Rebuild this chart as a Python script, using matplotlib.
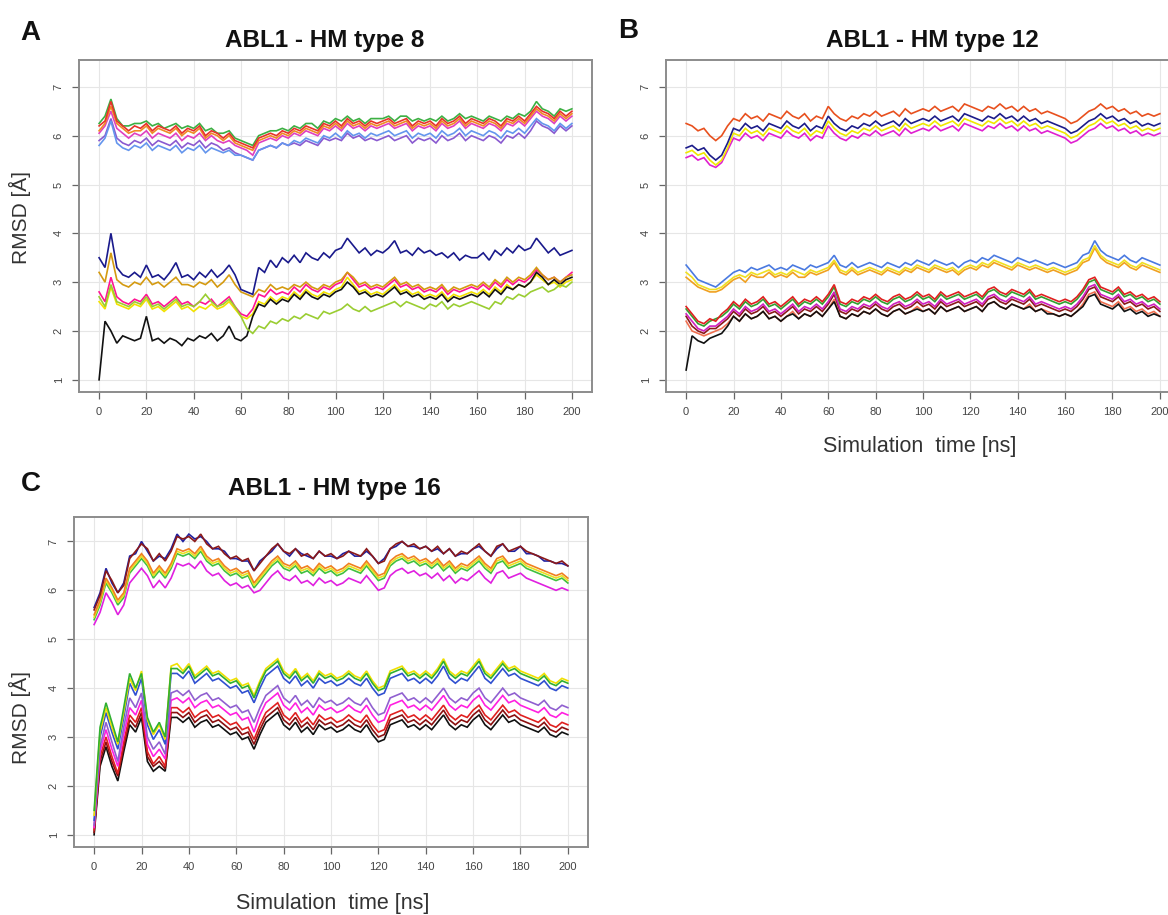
import numpy as np
import matplotlib
matplotlib.use("Agg")
import matplotlib.pyplot as plt

plt.rcParams['font.family'] = ['Liberation Sans', 'DejaVu Sans']

# time samples (ns), one every 2.5 ns
time_ns = np.arange(0, 200.1, 2.5)
x_ticks = list(range(0, 201, 20))
y_ticks = list(range(1, 8))

titles = ["ABL1 - HM type 8", "ABL1 - HM type 12", "ABL1 - HM type 16"]
panel_letters = ["A", "B", "C"]
ylabel = "RMSD [Å]"
xlabel = "Simulation  time [ns]"

# ---------------- Panel A : HM type 8 ----------------
A_up_red = [6.2, 6.3, 6.7, 6.3, 6.2, 6.1, 6.2, 6.15,
            6.25, 6.1, 6.2, 6.15, 6.1, 6.2, 6.05, 6.15,
            6.1, 6.2, 6.0, 6.1, 6.05, 5.95, 6.05, 5.9,
            5.85, 5.8, 5.75, 5.95, 6.0, 6.05, 6.0, 6.1,
            6.05, 6.15, 6.1, 6.2, 6.15, 6.1, 6.25, 6.2,
            6.3, 6.2, 6.35, 6.25, 6.3, 6.2, 6.3, 6.25,
            6.3, 6.35, 6.25, 6.3, 6.35, 6.2, 6.3, 6.25,
            6.3, 6.2, 6.35, 6.25, 6.3, 6.4, 6.25, 6.35,
            6.3, 6.25, 6.35, 6.3, 6.2, 6.35, 6.3, 6.4,
            6.3, 6.45, 6.6, 6.5, 6.45, 6.35, 6.5, 6.4,
            6.5]
A_up_green = [6.25, 6.4, 6.75, 6.35, 6.2, 6.2, 6.25, 6.25,
              6.3, 6.2, 6.25, 6.15, 6.2, 6.25, 6.15, 6.2,
              6.15, 6.25, 6.1, 6.15, 6.05, 6.05, 6.1, 5.95,
              5.9, 5.85, 5.8, 6.0, 6.05, 6.1, 6.1, 6.15,
              6.1, 6.2, 6.15, 6.25, 6.25, 6.15, 6.3, 6.25,
              6.35, 6.3, 6.4, 6.3, 6.35, 6.25, 6.35, 6.35,
              6.35, 6.4, 6.3, 6.4, 6.4, 6.3, 6.35, 6.3,
              6.35, 6.3, 6.4, 6.3, 6.35, 6.45, 6.35, 6.4,
              6.35, 6.3, 6.4, 6.35, 6.3, 6.4, 6.35, 6.45,
              6.4, 6.5, 6.7, 6.55, 6.5, 6.4, 6.55, 6.5,
              6.55]
A_up_orange = [6.1, 6.25, 6.6, 6.25, 6.15, 6.05, 6.1, 6.1,
               6.2, 6.05, 6.15, 6.1, 6.05, 6.15, 6.0, 6.1,
               6.05, 6.15, 5.95, 6.05, 6.0, 5.9, 6.0, 5.85,
               5.8, 5.75, 5.7, 5.9, 5.95, 6.0, 5.95, 6.05,
               6.0, 6.1, 6.05, 6.15, 6.1, 6.05, 6.2, 6.15,
               6.25, 6.15, 6.3, 6.2, 6.25, 6.15, 6.25, 6.2,
               6.25, 6.3, 6.2, 6.25, 6.3, 6.15, 6.25, 6.2,
               6.25, 6.15, 6.3, 6.2, 6.25, 6.35, 6.2, 6.3,
               6.25, 6.2, 6.3, 6.25, 6.15, 6.3, 6.25, 6.35,
               6.25, 6.4, 6.55, 6.45, 6.4, 6.3, 6.45, 6.35,
               6.45]
A_up_magenta = [6.05, 6.2, 6.5, 6.15, 6.05, 5.95, 6.05, 6.0,
                6.1, 5.95, 6.05, 6.0, 5.95, 6.05, 5.9, 6.0,
                5.95, 6.05, 5.9, 6.0, 5.9, 5.85, 5.9, 5.8,
                5.75, 5.7, 5.6, 5.85, 5.9, 5.95, 5.9, 6.0,
                5.95, 6.05, 6.0, 6.1, 6.05, 6.0, 6.15, 6.1,
                6.2, 6.1, 6.25, 6.15, 6.2, 6.1, 6.2, 6.15,
                6.2, 6.25, 6.15, 6.2, 6.25, 6.1, 6.2, 6.15,
                6.2, 6.1, 6.25, 6.15, 6.2, 6.3, 6.15, 6.25,
                6.2, 6.15, 6.25, 6.2, 6.1, 6.25, 6.2, 6.3,
                6.2, 6.35, 6.5, 6.4, 6.35, 6.25, 6.4, 6.3,
                6.4]
A_up_blue = [5.8, 5.95, 6.3, 5.85, 5.75, 5.7, 5.8, 5.75,
             5.85, 5.7, 5.8, 5.75, 5.7, 5.8, 5.65, 5.75,
             5.7, 5.8, 5.65, 5.75, 5.7, 5.65, 5.7, 5.6,
             5.6, 5.55, 5.5, 5.7, 5.75, 5.8, 5.75, 5.85,
             5.8, 5.9, 5.85, 5.95, 5.9, 5.85, 6.0, 5.95,
             6.05, 5.95, 6.1, 6.0, 6.05, 5.95, 6.05, 6.0,
             6.05, 6.1, 6.0, 6.05, 6.1, 5.95, 6.05, 6.0,
             6.05, 5.95, 6.1, 6.0, 6.05, 6.15, 6.0, 6.1,
             6.05, 6.0, 6.1, 6.05, 5.95, 6.1, 6.05, 6.15,
             6.05, 6.2, 6.35, 6.25, 6.2, 6.1, 6.25, 6.15,
             6.25]
A_up_purple = [5.9, 6.0, 6.35, 5.95, 5.85, 5.8, 5.9, 5.85,
               5.95, 5.8, 5.9, 5.85, 5.8, 5.9, 5.75, 5.85,
               5.8, 5.9, 5.75, 5.85, 5.8, 5.7, 5.75, 5.65,
               5.6, 5.55, 5.5, 5.7, 5.75, 5.8, 5.75, 5.85,
               5.8, 5.85, 5.8, 5.9, 5.85, 5.8, 5.95, 5.9,
               5.95, 5.9, 6.05, 5.95, 6.0, 5.9, 5.95, 5.9,
               5.95, 6.0, 5.9, 5.95, 6.0, 5.85, 5.95, 5.9,
               5.95, 5.85, 6.0, 5.9, 5.95, 6.05, 5.9, 6.0,
               5.95, 5.9, 6.0, 5.95, 5.85, 6.0, 5.95, 6.05,
               5.95, 6.1, 6.3, 6.2, 6.15, 6.05, 6.2, 6.1,
               6.2]

A_lo_navy = [3.5, 3.3, 4.0, 3.3, 3.15, 3.1, 3.2, 3.1,
             3.35, 3.1, 3.15, 3.05, 3.2, 3.4, 3.1, 3.15,
             3.05, 3.2, 3.1, 3.25, 3.1, 3.2, 3.35, 3.15,
             2.85, 2.8, 2.75, 3.3, 3.2, 3.45, 3.3, 3.5,
             3.4, 3.55, 3.4, 3.6, 3.5, 3.45, 3.6, 3.5,
             3.65, 3.7, 3.9, 3.75, 3.6, 3.7, 3.55, 3.65,
             3.6, 3.7, 3.85, 3.6, 3.65, 3.55, 3.7, 3.6,
             3.65, 3.55, 3.6, 3.5, 3.6, 3.45, 3.55, 3.5,
             3.5, 3.6, 3.45, 3.65, 3.55, 3.7, 3.6, 3.75,
             3.65, 3.7, 3.9, 3.75, 3.6, 3.7, 3.55, 3.6,
             3.65]
A_lo_gold = [3.2, 3.0, 3.6, 3.05, 2.95, 2.9, 3.0, 2.95,
             3.1, 2.95, 3.0, 2.9, 3.0, 3.1, 2.95, 2.95,
             2.9, 3.0, 2.95, 3.05, 2.9, 3.0, 3.15, 2.95,
             2.8, 2.75, 2.7, 2.85, 2.8, 2.95, 2.85, 2.9,
             2.85, 2.95, 2.9, 3.0, 2.9, 2.85, 2.95, 2.9,
             3.0, 3.05, 3.2, 3.1, 2.95, 3.0, 2.9, 2.95,
             2.9, 3.0, 3.1, 2.95, 3.0, 2.9, 2.95, 2.85,
             2.9, 2.85, 2.95, 2.8, 2.9, 2.85, 2.9, 2.95,
             2.9, 3.0, 2.9, 3.05, 2.95, 3.1, 3.0, 3.1,
             3.05, 3.15, 3.3, 3.15, 3.05, 3.1, 3.0, 3.1,
             3.15]
A_lo_pink = [2.8, 2.6, 3.1, 2.7, 2.6, 2.55, 2.65, 2.6,
             2.75, 2.55, 2.6, 2.5, 2.6, 2.7, 2.55, 2.6,
             2.5, 2.6, 2.55, 2.65, 2.5, 2.6, 2.7, 2.5,
             2.35, 2.3, 2.45, 2.75, 2.7, 2.85, 2.75, 2.8,
             2.75, 2.9, 2.8, 2.95, 2.85, 2.8, 2.9, 2.85,
             2.95, 3.0, 3.2, 3.05, 2.9, 2.95, 2.85, 2.9,
             2.85, 2.95, 3.05, 2.9, 2.95, 2.85, 2.9, 2.8,
             2.85, 2.8, 2.9, 2.75, 2.85, 2.8, 2.85, 2.9,
             2.85, 2.95, 2.85, 3.0, 2.9, 3.05, 2.95, 3.05,
             3.0, 3.1, 3.25, 3.15, 3.05, 3.1, 3.0, 3.1,
             3.2]
A_lo_yellow = [2.6, 2.45, 2.9, 2.55, 2.5, 2.45, 2.55, 2.5,
               2.65, 2.45, 2.5, 2.4, 2.5, 2.6, 2.45, 2.5,
               2.4, 2.5, 2.45, 2.55, 2.45, 2.5, 2.6, 2.45,
               2.3, 2.25, 2.35, 2.6, 2.55, 2.7, 2.6, 2.7,
               2.65, 2.8, 2.7, 2.85, 2.75, 2.7, 2.8, 2.75,
               2.85, 2.9, 3.1, 2.95, 2.8, 2.85, 2.75, 2.8,
               2.75, 2.85, 2.95, 2.8, 2.85, 2.75, 2.8, 2.7,
               2.75, 2.7, 2.8, 2.65, 2.75, 2.7, 2.75, 2.8,
               2.75, 2.85, 2.75, 2.9, 2.8, 2.95, 2.85, 2.95,
               2.9, 3.0, 3.15, 3.05, 2.95, 3.0, 2.9, 3.0,
               3.05]
A_lo_black = [1.0, 2.2, 2.0, 1.75, 1.9, 1.85, 1.8, 1.85,
              2.3, 1.8, 1.85, 1.75, 1.85, 1.8, 1.7, 1.85,
              1.8, 1.9, 1.85, 1.95, 1.8, 1.9, 2.1, 1.85,
              1.8, 1.9, 2.3, 2.55, 2.5, 2.65, 2.55, 2.65,
              2.6, 2.75, 2.65, 2.8, 2.7, 2.65, 2.75, 2.7,
              2.8, 2.85, 3.0, 2.9, 2.75, 2.8, 2.7, 2.75,
              2.7, 2.8, 2.9, 2.75, 2.8, 2.7, 2.75, 2.65,
              2.7, 2.65, 2.75, 2.6, 2.7, 2.65, 2.7, 2.75,
              2.7, 2.8, 2.7, 2.85, 2.75, 2.9, 2.85, 2.95,
              2.9, 3.0, 3.2, 3.1, 2.95, 3.05, 2.95, 3.05,
              3.1]
A_lo_ygreen = [2.7, 2.5, 2.95, 2.6, 2.55, 2.5, 2.6, 2.55,
               2.7, 2.5, 2.55, 2.45, 2.55, 2.65, 2.5, 2.55,
               2.5, 2.6, 2.75, 2.6, 2.5, 2.55, 2.65, 2.5,
               2.3, 2.05, 1.95, 2.1, 2.05, 2.2, 2.15, 2.25,
               2.2, 2.3, 2.25, 2.35, 2.3, 2.25, 2.4, 2.35,
               2.4, 2.45, 2.55, 2.45, 2.4, 2.5, 2.4, 2.45,
               2.5, 2.55, 2.6, 2.5, 2.6, 2.55, 2.5, 2.45,
               2.55, 2.5, 2.6, 2.45, 2.55, 2.5, 2.55, 2.6,
               2.55, 2.5, 2.45, 2.6, 2.55, 2.7, 2.65, 2.75,
               2.7, 2.8, 2.85, 2.9, 2.8, 2.85, 2.95, 2.9,
               3.0]

# ---------------- Panel B : HM type 12 ----------------
B_up_orangered = [6.25, 6.2, 6.1, 6.15, 6.0, 5.9, 6.0, 6.2,
                  6.35, 6.3, 6.45, 6.35, 6.4, 6.3, 6.45, 6.4,
                  6.35, 6.5, 6.4, 6.35, 6.45, 6.3, 6.4, 6.35,
                  6.6, 6.45, 6.35, 6.3, 6.4, 6.35, 6.45, 6.4,
                  6.5, 6.4, 6.45, 6.5, 6.4, 6.55, 6.45, 6.5,
                  6.55, 6.5, 6.6, 6.5, 6.55, 6.6, 6.5, 6.65,
                  6.6, 6.55, 6.5, 6.6, 6.55, 6.65, 6.55, 6.6,
                  6.5, 6.6, 6.5, 6.55, 6.45, 6.5, 6.45, 6.4,
                  6.35, 6.25, 6.3, 6.4, 6.5, 6.55, 6.65, 6.55,
                  6.6, 6.5, 6.55, 6.45, 6.5, 6.4, 6.45, 6.4,
                  6.45]
B_up_navy = [5.75, 5.8, 5.7, 5.75, 5.6, 5.5, 5.6, 5.85,
             6.15, 6.1, 6.25, 6.15, 6.2, 6.1, 6.25, 6.2,
             6.15, 6.3, 6.2, 6.15, 6.25, 6.1, 6.2, 6.15,
             6.4, 6.25, 6.15, 6.1, 6.2, 6.15, 6.25, 6.2,
             6.3, 6.2, 6.25, 6.3, 6.2, 6.35, 6.25, 6.3,
             6.35, 6.3, 6.4, 6.3, 6.35, 6.4, 6.3, 6.45,
             6.4, 6.35, 6.3, 6.4, 6.35, 6.45, 6.35, 6.4,
             6.3, 6.4, 6.3, 6.35, 6.25, 6.3, 6.25, 6.2,
             6.15, 6.05, 6.1, 6.2, 6.3, 6.35, 6.45, 6.35,
             6.4, 6.3, 6.35, 6.25, 6.3, 6.2, 6.25, 6.2,
             6.25]
B_up_yellow = [5.65, 5.7, 5.6, 5.65, 5.5, 5.4, 5.5, 5.75,
               6.05, 6.0, 6.15, 6.05, 6.1, 6.0, 6.15, 6.1,
               6.05, 6.2, 6.1, 6.05, 6.15, 6.0, 6.1, 6.05,
               6.3, 6.15, 6.05, 6.0, 6.1, 6.05, 6.15, 6.1,
               6.2, 6.1, 6.15, 6.2, 6.1, 6.25, 6.15, 6.2,
               6.25, 6.2, 6.3, 6.2, 6.25, 6.3, 6.2, 6.35,
               6.3, 6.25, 6.2, 6.3, 6.25, 6.35, 6.25, 6.3,
               6.2, 6.3, 6.2, 6.25, 6.15, 6.2, 6.15, 6.1,
               6.05, 5.95, 6.0, 6.1, 6.2, 6.25, 6.35, 6.25,
               6.3, 6.2, 6.25, 6.15, 6.2, 6.1, 6.15, 6.1,
               6.15]
B_up_magenta = [5.55, 5.6, 5.5, 5.55, 5.4, 5.35, 5.45, 5.7,
                5.95, 5.9, 6.05, 5.95, 6.0, 5.9, 6.05, 6.0,
                5.95, 6.1, 6.0, 5.95, 6.05, 5.9, 6.0, 5.95,
                6.2, 6.05, 5.95, 5.9, 6.0, 5.95, 6.05, 6.0,
                6.1, 6.0, 6.05, 6.1, 6.0, 6.15, 6.05, 6.1,
                6.15, 6.1, 6.2, 6.1, 6.15, 6.2, 6.1, 6.25,
                6.2, 6.15, 6.1, 6.2, 6.15, 6.25, 6.15, 6.2,
                6.1, 6.2, 6.1, 6.15, 6.05, 6.1, 6.05, 6.0,
                5.95, 5.85, 5.9, 6.0, 6.1, 6.15, 6.25, 6.15,
                6.2, 6.1, 6.15, 6.05, 6.1, 6.0, 6.05, 6.0,
                6.05]

B_lo_blue = [3.35, 3.2, 3.05, 3.0, 2.95, 2.9, 3.0, 3.1,
             3.2, 3.25, 3.2, 3.3, 3.25, 3.3, 3.35, 3.25,
             3.3, 3.25, 3.35, 3.3, 3.25, 3.35, 3.3, 3.35,
             3.4, 3.55, 3.35, 3.3, 3.4, 3.3, 3.35, 3.4,
             3.35, 3.3, 3.4, 3.35, 3.3, 3.4, 3.35, 3.45,
             3.4, 3.35, 3.45, 3.4, 3.35, 3.4, 3.3, 3.4,
             3.45, 3.4, 3.5, 3.45, 3.55, 3.5, 3.45, 3.4,
             3.5, 3.45, 3.4, 3.45, 3.4, 3.35, 3.4, 3.35,
             3.3, 3.35, 3.4, 3.55, 3.6, 3.85, 3.65, 3.55,
             3.5, 3.45, 3.55, 3.45, 3.4, 3.5, 3.45, 3.4,
             3.35]
B_lo_yellow = [3.2, 3.1, 2.95, 2.9, 2.85, 2.85, 2.9, 3.0,
               3.1, 3.15, 3.1, 3.2, 3.15, 3.2, 3.25, 3.15,
               3.2, 3.15, 3.25, 3.2, 3.15, 3.25, 3.2, 3.25,
               3.3, 3.45, 3.25, 3.2, 3.3, 3.2, 3.25, 3.3,
               3.25, 3.2, 3.3, 3.25, 3.2, 3.3, 3.25, 3.35,
               3.3, 3.25, 3.35, 3.3, 3.25, 3.3, 3.2, 3.3,
               3.35, 3.3, 3.4, 3.35, 3.45, 3.4, 3.35, 3.3,
               3.4, 3.35, 3.3, 3.35, 3.3, 3.25, 3.3, 3.25,
               3.2, 3.25, 3.3, 3.45, 3.5, 3.75, 3.55, 3.45,
               3.4, 3.35, 3.45, 3.35, 3.3, 3.4, 3.35, 3.3,
               3.25]
B_lo_orange = [3.1, 3.0, 2.9, 2.85, 2.8, 2.8, 2.85, 2.95,
               3.05, 3.1, 3.0, 3.15, 3.1, 3.1, 3.2, 3.1,
               3.15, 3.1, 3.2, 3.1, 3.1, 3.2, 3.15, 3.2,
               3.25, 3.4, 3.2, 3.15, 3.25, 3.15, 3.2, 3.25,
               3.2, 3.15, 3.25, 3.2, 3.15, 3.25, 3.2, 3.3,
               3.25, 3.2, 3.3, 3.25, 3.2, 3.25, 3.15, 3.25,
               3.3, 3.25, 3.35, 3.3, 3.4, 3.35, 3.3, 3.25,
               3.35, 3.3, 3.25, 3.3, 3.25, 3.2, 3.25, 3.2,
               3.15, 3.2, 3.25, 3.4, 3.45, 3.7, 3.5, 3.4,
               3.35, 3.3, 3.4, 3.3, 3.25, 3.35, 3.3, 3.25,
               3.2]
B_lo_red = [2.5, 2.35, 2.2, 2.15, 2.25, 2.2, 2.35, 2.45,
            2.6, 2.5, 2.65, 2.55, 2.6, 2.7, 2.55, 2.6,
            2.5, 2.6, 2.7, 2.55, 2.65, 2.6, 2.7, 2.6,
            2.75, 2.95, 2.6, 2.55, 2.65, 2.6, 2.7, 2.65,
            2.75, 2.65, 2.6, 2.7, 2.75, 2.65, 2.7, 2.8,
            2.7, 2.75, 2.65, 2.8, 2.7, 2.75, 2.8, 2.7,
            2.75, 2.8, 2.7, 2.85, 2.9, 2.8, 2.75, 2.85,
            2.8, 2.75, 2.85, 2.7, 2.75, 2.7, 2.65, 2.6,
            2.65, 2.6, 2.7, 2.85, 3.05, 3.1, 2.9, 2.85,
            2.8, 2.9, 2.75, 2.8, 2.7, 2.75, 2.65, 2.7,
            2.6]
B_lo_green = [2.45, 2.3, 2.15, 2.1, 2.2, 2.25, 2.3, 2.4,
              2.55, 2.45, 2.6, 2.5, 2.55, 2.65, 2.5, 2.55,
              2.45, 2.55, 2.65, 2.5, 2.6, 2.55, 2.65, 2.55,
              2.7, 2.9, 2.55, 2.5, 2.6, 2.55, 2.65, 2.6,
              2.7, 2.6, 2.55, 2.65, 2.7, 2.6, 2.65, 2.75,
              2.65, 2.7, 2.6, 2.75, 2.65, 2.7, 2.75, 2.65,
              2.7, 2.75, 2.65, 2.8, 2.85, 2.75, 2.7, 2.8,
              2.75, 2.7, 2.8, 2.65, 2.7, 2.65, 2.6, 2.55,
              2.6, 2.55, 2.65, 2.8, 3.0, 3.05, 2.85, 2.8,
              2.75, 2.85, 2.7, 2.75, 2.65, 2.7, 2.6, 2.65,
              2.55]
B_lo_magenta = [2.35, 2.2, 2.05, 2.0, 2.1, 2.1, 2.2, 2.3,
                2.45, 2.35, 2.5, 2.4, 2.45, 2.55, 2.4, 2.45,
                2.35, 2.45, 2.55, 2.4, 2.5, 2.45, 2.55, 2.45,
                2.6, 2.8, 2.45, 2.4, 2.5, 2.45, 2.55, 2.5,
                2.6, 2.5, 2.45, 2.55, 2.6, 2.5, 2.55, 2.65,
                2.55, 2.6, 2.5, 2.65, 2.55, 2.6, 2.65, 2.55,
                2.6, 2.65, 2.55, 2.7, 2.75, 2.65, 2.6, 2.7,
                2.65, 2.6, 2.7, 2.55, 2.6, 2.55, 2.5, 2.45,
                2.5, 2.45, 2.55, 2.7, 2.9, 2.95, 2.75, 2.7,
                2.65, 2.75, 2.6, 2.65, 2.55, 2.6, 2.5, 2.55,
                2.45]
B_lo_darkred = [2.3, 2.1, 2.0, 1.95, 2.05, 2.05, 2.15, 2.25,
                2.4, 2.3, 2.45, 2.35, 2.4, 2.5, 2.35, 2.4,
                2.3, 2.4, 2.5, 2.35, 2.45, 2.4, 2.5, 2.4,
                2.55, 2.75, 2.4, 2.35, 2.45, 2.4, 2.5, 2.45,
                2.55, 2.45, 2.4, 2.5, 2.55, 2.45, 2.5, 2.6,
                2.5, 2.55, 2.45, 2.6, 2.5, 2.55, 2.6, 2.5,
                2.55, 2.6, 2.5, 2.65, 2.7, 2.6, 2.55, 2.65,
                2.6, 2.55, 2.65, 2.5, 2.55, 2.5, 2.45, 2.4,
                2.45, 2.4, 2.5, 2.65, 2.85, 2.9, 2.7, 2.65,
                2.6, 2.7, 2.55, 2.6, 2.5, 2.55, 2.45, 2.5,
                2.4]
B_lo_coral = [2.2, 2.0, 1.95, 1.9, 1.95, 2.0, 2.05, 2.15,
              2.3, 2.2, 2.35, 2.25, 2.3, 2.4, 2.25, 2.3,
              2.2, 2.3, 2.4, 2.25, 2.35, 2.3, 2.4, 2.3,
              2.45, 2.65, 2.3, 2.25, 2.35, 2.3, 2.4, 2.35,
              2.45, 2.35, 2.3, 2.4, 2.45, 2.35, 2.4, 2.5,
              2.4, 2.45, 2.35, 2.5, 2.4, 2.45, 2.5, 2.4,
              2.45, 2.5, 2.4, 2.55, 2.6, 2.5, 2.45, 2.55,
              2.5, 2.45, 2.55, 2.4, 2.45, 2.4, 2.35, 2.3,
              2.35, 2.3, 2.4, 2.55, 2.75, 2.8, 2.6, 2.55,
              2.5, 2.6, 2.45, 2.5, 2.4, 2.45, 2.35, 2.4,
              2.3]
B_lo_black = [1.2, 1.9, 1.8, 1.75, 1.85, 1.9, 1.95, 2.1,
              2.3, 2.2, 2.35, 2.25, 2.3, 2.4, 2.25, 2.3,
              2.2, 2.3, 2.35, 2.25, 2.35, 2.3, 2.4, 2.3,
              2.45, 2.6, 2.3, 2.25, 2.35, 2.3, 2.4, 2.35,
              2.45, 2.35, 2.3, 2.4, 2.45, 2.35, 2.4, 2.45,
              2.4, 2.45, 2.35, 2.5, 2.4, 2.45, 2.5, 2.4,
              2.45, 2.5, 2.4, 2.55, 2.6, 2.5, 2.45, 2.55,
              2.5, 2.45, 2.5, 2.4, 2.45, 2.35, 2.35, 2.3,
              2.35, 2.3, 2.4, 2.5, 2.7, 2.75, 2.55, 2.5,
              2.45, 2.55, 2.4, 2.45, 2.35, 2.4, 2.3, 2.35,
              2.3]

# ---------------- Panel C : HM type 16 ----------------
C_up_darkred = [5.6, 5.9, 6.4, 6.2, 5.95, 6.1, 6.65, 6.8,
                6.95, 6.85, 6.6, 6.75, 6.6, 6.8, 7.1, 7.05,
                7.1, 7.0, 7.15, 6.95, 6.85, 6.9, 6.75, 6.65,
                6.7, 6.6, 6.65, 6.4, 6.55, 6.7, 6.85, 6.95,
                6.8, 6.75, 6.85, 6.7, 6.75, 6.65, 6.8, 6.7,
                6.75, 6.65, 6.7, 6.8, 6.75, 6.7, 6.85, 6.7,
                6.55, 6.6, 6.85, 6.95, 7.0, 6.9, 6.95, 6.85,
                6.9, 6.8, 6.9, 6.75, 6.85, 6.7, 6.8, 6.75,
                6.85, 6.95, 6.8, 6.7, 6.9, 6.95, 6.8, 6.85,
                6.9, 6.8, 6.75, 6.7, 6.65, 6.6, 6.55, 6.6,
                6.5]
C_up_navy = [5.65, 5.95, 6.45, 6.15, 5.95, 6.15, 6.7, 6.75,
             7.0, 6.8, 6.6, 6.7, 6.65, 6.85, 7.15, 7.0,
             7.15, 7.05, 7.1, 7.0, 6.85, 6.85, 6.8, 6.65,
             6.65, 6.6, 6.6, 6.4, 6.6, 6.7, 6.8, 6.95,
             6.8, 6.7, 6.85, 6.75, 6.7, 6.65, 6.8, 6.7,
             6.7, 6.65, 6.75, 6.8, 6.7, 6.7, 6.8, 6.7,
             6.55, 6.65, 6.85, 6.9, 7.0, 6.9, 6.9, 6.85,
             6.9, 6.8, 6.85, 6.75, 6.85, 6.7, 6.75, 6.75,
             6.85, 6.9, 6.8, 6.7, 6.85, 6.95, 6.8, 6.8,
             6.9, 6.75, 6.75, 6.7, 6.6, 6.6, 6.55, 6.55,
             6.5]
C_up_orange = [5.5, 5.8, 6.25, 6.05, 5.8, 5.95, 6.45, 6.6,
               6.75, 6.6, 6.35, 6.5, 6.35, 6.55, 6.85, 6.8,
               6.85, 6.75, 6.9, 6.7, 6.6, 6.65, 6.5, 6.4,
               6.45, 6.35, 6.4, 6.15, 6.3, 6.45, 6.6, 6.7,
               6.55, 6.5, 6.6, 6.45, 6.5, 6.4, 6.55, 6.45,
               6.5, 6.4, 6.45, 6.55, 6.5, 6.45, 6.6, 6.45,
               6.3, 6.35, 6.6, 6.7, 6.75, 6.65, 6.7, 6.6,
               6.65, 6.55, 6.65, 6.5, 6.6, 6.45, 6.55, 6.5,
               6.6, 6.7, 6.55, 6.45, 6.65, 6.7, 6.55, 6.6,
               6.65, 6.55, 6.5, 6.45, 6.4, 6.35, 6.3, 6.35,
               6.25]
C_up_yellow = [5.45, 5.75, 6.2, 6.0, 5.75, 5.9, 6.4, 6.55,
               6.7, 6.55, 6.3, 6.45, 6.3, 6.5, 6.8, 6.75,
               6.8, 6.7, 6.85, 6.65, 6.55, 6.6, 6.45, 6.35,
               6.4, 6.3, 6.35, 6.1, 6.25, 6.4, 6.55, 6.65,
               6.5, 6.45, 6.55, 6.4, 6.45, 6.35, 6.5, 6.4,
               6.45, 6.35, 6.4, 6.5, 6.45, 6.4, 6.55, 6.4,
               6.25, 6.3, 6.55, 6.65, 6.7, 6.6, 6.65, 6.55,
               6.6, 6.5, 6.6, 6.45, 6.55, 6.4, 6.5, 6.45,
               6.55, 6.65, 6.5, 6.4, 6.6, 6.65, 6.5, 6.55,
               6.6, 6.5, 6.45, 6.4, 6.35, 6.3, 6.25, 6.3,
               6.2]
C_up_green = [5.4, 5.7, 6.15, 5.95, 5.7, 5.85, 6.35, 6.5,
              6.65, 6.5, 6.25, 6.4, 6.25, 6.45, 6.75, 6.7,
              6.75, 6.65, 6.8, 6.6, 6.5, 6.55, 6.4, 6.3,
              6.35, 6.25, 6.3, 6.05, 6.2, 6.35, 6.5, 6.6,
              6.45, 6.4, 6.5, 6.35, 6.4, 6.3, 6.45, 6.35,
              6.4, 6.3, 6.35, 6.45, 6.4, 6.35, 6.5, 6.35,
              6.2, 6.25, 6.5, 6.6, 6.65, 6.55, 6.6, 6.5,
              6.55, 6.45, 6.55, 6.4, 6.5, 6.35, 6.45, 6.4,
              6.5, 6.6, 6.45, 6.35, 6.55, 6.6, 6.45, 6.5,
              6.55, 6.45, 6.4, 6.35, 6.3, 6.25, 6.2, 6.25,
              6.15]
C_up_magenta = [5.3, 5.55, 5.95, 5.75, 5.5, 5.7, 6.15, 6.3,
                6.45, 6.3, 6.05, 6.2, 6.05, 6.25, 6.55, 6.5,
                6.55, 6.45, 6.6, 6.4, 6.3, 6.35, 6.2, 6.1,
                6.15, 6.05, 6.1, 5.95, 6.0, 6.15, 6.3, 6.4,
                6.25, 6.2, 6.3, 6.15, 6.2, 6.1, 6.25, 6.15,
                6.2, 6.1, 6.15, 6.25, 6.2, 6.15, 6.3, 6.15,
                6.0, 6.05, 6.3, 6.4, 6.45, 6.35, 6.4, 6.3,
                6.35, 6.25, 6.35, 6.2, 6.3, 6.15, 6.25, 6.2,
                6.3, 6.4, 6.25, 6.15, 6.35, 6.4, 6.25, 6.3,
                6.35, 6.25, 6.2, 6.15, 6.1, 6.05, 6.0, 6.05,
                6.0]

C_lo_green = [1.5, 3.2, 3.7, 3.3, 2.9, 3.6, 4.3, 4.0,
              4.3, 3.4, 3.1, 3.3, 3.0, 4.4, 4.4, 4.3,
              4.45, 4.2, 4.3, 4.4, 4.25, 4.3, 4.2, 4.1,
              4.15, 4.0, 4.05, 3.8, 4.1, 4.35, 4.45, 4.55,
              4.3, 4.2, 4.35, 4.15, 4.25, 4.1, 4.3, 4.2,
              4.25, 4.15, 4.2, 4.3, 4.2, 4.15, 4.3, 4.1,
              3.95, 4.0, 4.3, 4.35, 4.4, 4.25, 4.3, 4.2,
              4.3, 4.2, 4.35, 4.55, 4.3, 4.2, 4.3, 4.25,
              4.4, 4.55, 4.3, 4.2, 4.35, 4.5, 4.35, 4.4,
              4.3, 4.25, 4.2, 4.15, 4.25, 4.1, 4.05, 4.15,
              4.1]
C_lo_yellow = [1.4, 3.1, 3.6, 3.2, 2.85, 3.5, 4.2, 3.95,
               4.35, 3.35, 3.05, 3.25, 2.95, 4.45, 4.5, 4.35,
               4.5, 4.25, 4.35, 4.45, 4.3, 4.35, 4.25, 4.15,
               4.2, 4.05, 4.1, 3.85, 4.15, 4.4, 4.5, 4.6,
               4.35, 4.25, 4.4, 4.2, 4.3, 4.15, 4.35, 4.25,
               4.3, 4.2, 4.25, 4.35, 4.25, 4.2, 4.35, 4.15,
               4.0, 4.05, 4.35, 4.4, 4.45, 4.3, 4.35, 4.25,
               4.35, 4.25, 4.4, 4.6, 4.35, 4.25, 4.35, 4.3,
               4.45, 4.6, 4.35, 4.25, 4.4, 4.55, 4.4, 4.45,
               4.35, 4.3, 4.25, 4.2, 4.3, 4.15, 4.1, 4.2,
               4.15]
C_lo_blue = [1.3, 3.0, 3.5, 3.1, 2.75, 3.4, 4.1, 3.85,
             4.2, 3.25, 2.95, 3.15, 2.85, 4.3, 4.3, 4.2,
             4.35, 4.1, 4.2, 4.3, 4.15, 4.2, 4.1, 4.0,
             4.05, 3.9, 3.95, 3.7, 4.0, 4.25, 4.35, 4.45,
             4.2, 4.1, 4.25, 4.05, 4.15, 4.0, 4.2, 4.1,
             4.15, 4.05, 4.1, 4.2, 4.1, 4.05, 4.2, 4.0,
             3.85, 3.9, 4.2, 4.25, 4.3, 4.15, 4.2, 4.1,
             4.2, 4.1, 4.25, 4.45, 4.2, 4.1, 4.2, 4.15,
             4.3, 4.45, 4.2, 4.1, 4.25, 4.4, 4.25, 4.3,
             4.2, 4.15, 4.1, 4.05, 4.15, 4.0, 3.95, 4.05,
             4.0]
C_lo_purple = [1.2, 2.8, 3.3, 2.9, 2.5, 3.2, 3.8, 3.6,
               3.9, 3.0, 2.75, 2.9, 2.65, 3.9, 3.95, 3.85,
               3.95, 3.75, 3.85, 3.9, 3.75, 3.8, 3.7, 3.6,
               3.65, 3.5, 3.55, 3.3, 3.6, 3.85, 3.95, 4.05,
               3.8, 3.7, 3.85, 3.65, 3.75, 3.6, 3.8, 3.7,
               3.75, 3.65, 3.7, 3.8, 3.7, 3.65, 3.8, 3.6,
               3.45, 3.5, 3.8, 3.85, 3.9, 3.75, 3.8, 3.7,
               3.8, 3.7, 3.85, 4.0, 3.8, 3.7, 3.8, 3.75,
               3.9, 4.0, 3.8, 3.7, 3.85, 4.0, 3.85, 3.9,
               3.8, 3.75, 3.7, 3.65, 3.75, 3.6, 3.55, 3.65,
               3.6]
C_lo_magenta = [1.15, 2.7, 3.15, 2.75, 2.4, 3.05, 3.6, 3.45,
                3.75, 2.85, 2.6, 2.75, 2.55, 3.75, 3.8, 3.7,
                3.8, 3.6, 3.7, 3.75, 3.6, 3.65, 3.55, 3.45,
                3.5, 3.35, 3.4, 3.1, 3.45, 3.7, 3.8, 3.9,
                3.65, 3.55, 3.7, 3.5, 3.6, 3.45, 3.65, 3.55,
                3.6, 3.5, 3.55, 3.65, 3.55, 3.5, 3.65, 3.45,
                3.3, 3.35, 3.65, 3.7, 3.75, 3.6, 3.65, 3.55,
                3.65, 3.55, 3.7, 3.85, 3.65, 3.55, 3.65, 3.6,
                3.75, 3.85, 3.65, 3.55, 3.7, 3.85, 3.7, 3.75,
                3.65, 3.6, 3.55, 3.5, 3.6, 3.45, 3.4, 3.5,
                3.45]
C_lo_red = [1.1, 2.6, 3.0, 2.6, 2.25, 2.9, 3.45, 3.3,
            3.6, 2.7, 2.45, 2.6, 2.4, 3.6, 3.6, 3.5,
            3.6, 3.4, 3.5, 3.55, 3.4, 3.45, 3.35, 3.25,
            3.3, 3.15, 3.2, 2.95, 3.25, 3.5, 3.6, 3.7,
            3.45, 3.35, 3.5, 3.3, 3.4, 3.25, 3.45, 3.35,
            3.4, 3.3, 3.35, 3.45, 3.35, 3.3, 3.45, 3.25,
            3.1, 3.15, 3.45, 3.5, 3.55, 3.4, 3.45, 3.35,
            3.45, 3.35, 3.5, 3.65, 3.45, 3.35, 3.45, 3.4,
            3.55, 3.65, 3.45, 3.35, 3.5, 3.65, 3.5, 3.55,
            3.45, 3.4, 3.35, 3.3, 3.4, 3.25, 3.2, 3.3,
            3.25]
C_lo_darkred = [1.05, 2.5, 2.9, 2.5, 2.2, 2.8, 3.35, 3.2,
                3.5, 2.6, 2.4, 2.5, 2.35, 3.5, 3.5, 3.4,
                3.5, 3.3, 3.4, 3.45, 3.3, 3.35, 3.25, 3.15,
                3.2, 3.05, 3.1, 2.85, 3.15, 3.4, 3.5, 3.6,
                3.35, 3.25, 3.4, 3.2, 3.3, 3.15, 3.35, 3.25,
                3.3, 3.2, 3.25, 3.35, 3.25, 3.2, 3.35, 3.15,
                3.0, 3.05, 3.35, 3.4, 3.45, 3.3, 3.35, 3.25,
                3.35, 3.25, 3.4, 3.55, 3.35, 3.25, 3.35, 3.3,
                3.45, 3.55, 3.35, 3.25, 3.4, 3.55, 3.4, 3.45,
                3.35, 3.3, 3.25, 3.2, 3.3, 3.15, 3.1, 3.2,
                3.15]
C_lo_black = [1.0, 2.4, 2.8, 2.4, 2.1, 2.7, 3.25, 3.1,
              3.4, 2.5, 2.3, 2.4, 2.3, 3.4, 3.4, 3.3,
              3.4, 3.2, 3.3, 3.35, 3.2, 3.25, 3.15, 3.05,
              3.1, 2.95, 3.0, 2.75, 3.05, 3.3, 3.4, 3.5,
              3.25, 3.15, 3.3, 3.1, 3.2, 3.05, 3.25, 3.15,
              3.2, 3.1, 3.15, 3.25, 3.15, 3.1, 3.25, 3.05,
              2.9, 2.95, 3.25, 3.3, 3.35, 3.2, 3.25, 3.15,
              3.25, 3.15, 3.3, 3.45, 3.25, 3.15, 3.25, 3.2,
              3.35, 3.45, 3.25, 3.15, 3.3, 3.45, 3.3, 3.35,
              3.25, 3.2, 3.15, 3.1, 3.2, 3.05, 3.0, 3.1,
              3.05]

# series per panel, drawn in order (last on top)
panel_series = [
    [(A_up_purple, '#8a5ad0'), (A_up_blue, '#6495ed'), (A_up_magenta, '#e040c0'),
     (A_up_orange, '#f08a24'), (A_up_green, '#3cb043'), (A_up_red, '#e8322a'),
     (A_lo_yellow, '#f2e200'), (A_lo_pink, '#ff1493'), (A_lo_gold, '#d49a10'),
     (A_lo_black, '#111111'), (A_lo_ygreen, '#9acd32'), (A_lo_navy, '#1a1a8c')],
    [(B_up_magenta, '#e020d0'), (B_up_yellow, '#f0e800'), (B_up_navy, '#1c1c8a'),
     (B_up_orangered, '#e8501e'),
     (B_lo_orange, '#f0a020'), (B_lo_yellow, '#f0e020'), (B_lo_blue, '#4a7ae0'),
     (B_lo_coral, '#f07050'), (B_lo_black, '#111111'), (B_lo_darkred, '#8b1a1a'),
     (B_lo_magenta, '#d020c0'), (B_lo_green, '#30a030'), (B_lo_red, '#e02020')],
    [(C_up_magenta, '#e020e0'), (C_up_green, '#40c040'), (C_up_yellow, '#e8e020'),
     (C_up_orange, '#f08020'), (C_up_navy, '#2020a0'), (C_up_darkred, '#8b1a1a'),
     (C_lo_black, '#111111'), (C_lo_darkred, '#8b1010'), (C_lo_red, '#e02020'),
     (C_lo_magenta, '#ff20e0'), (C_lo_purple, '#9060d0'), (C_lo_blue, '#3050d0'),
     (C_lo_yellow, '#f0e000'), (C_lo_green, '#30b030')],
]

W, H = 1168, 915
fig = plt.figure(figsize=(W / 100, H / 100), dpi=100)


def rect(l, t, r, b):
    return [l / W, 1 - b / H, (r - l) / W, (b - t) / H]


def pt(x, y):
    return x / W, 1 - y / H


axes_rects = [rect(79, 60, 592, 392), rect(666, 60, 1180, 392), rect(74, 517, 588, 847)]
ylims = [(0.75, 7.55), (0.75, 7.55), (0.75, 7.5)]

for k in range(3):
    ax = fig.add_axes(axes_rects[k])
    for vals, col in panel_series[k]:
        ax.plot(time_ns, vals, color=col, lw=1.2, solid_joinstyle='miter')
    ax.set_xlim(-8.5, 208.5)
    ax.set_ylim(*ylims[k])
    ax.set_xticks(x_ticks)
    ax.set_yticks(y_ticks)
    ax.grid(True, color='#e6e6e6', lw=0.8)
    ax.set_axisbelow(True)
    for s in ax.spines.values():
        s.set_color('#8c8c8c')
        s.set_linewidth(1.4)
    ax.tick_params(direction='out', length=5, width=0.9, color='#666666',
                   labelsize=8, labelcolor='#444444', pad=6)
    plt.setp(ax.get_yticklabels(), rotation=90, va='center')

# titles and panel letters
title_pos = [(325, 41), (932, 41), (334, 489)]
letter_pos = [(30, 33), (628, 31), (31, 484)]
for k in range(3):
    fig.text(*pt(*title_pos[k]), titles[k], ha='center', va='center',
             fontsize=17.5, fontweight='bold', color='#111111')
    fig.text(*pt(*letter_pos[k]), panel_letters[k], ha='center', va='center',
             fontsize=20, fontweight='bold', color='#111111')

# axis labels
fig.text(*pt(20, 218), ylabel, rotation=90, ha='center', va='center', fontsize=15, color='#333333')
fig.text(*pt(20, 718), ylabel, rotation=90, ha='center', va='center', fontsize=15, color='#333333')
fig.text(*pt(920, 447), xlabel, ha='center', va='center', fontsize=15.5, color='#333333')
fig.text(*pt(333, 903), xlabel, ha='center', va='center', fontsize=15.5, color='#333333')

fig.savefig("out.png", dpi=100)
